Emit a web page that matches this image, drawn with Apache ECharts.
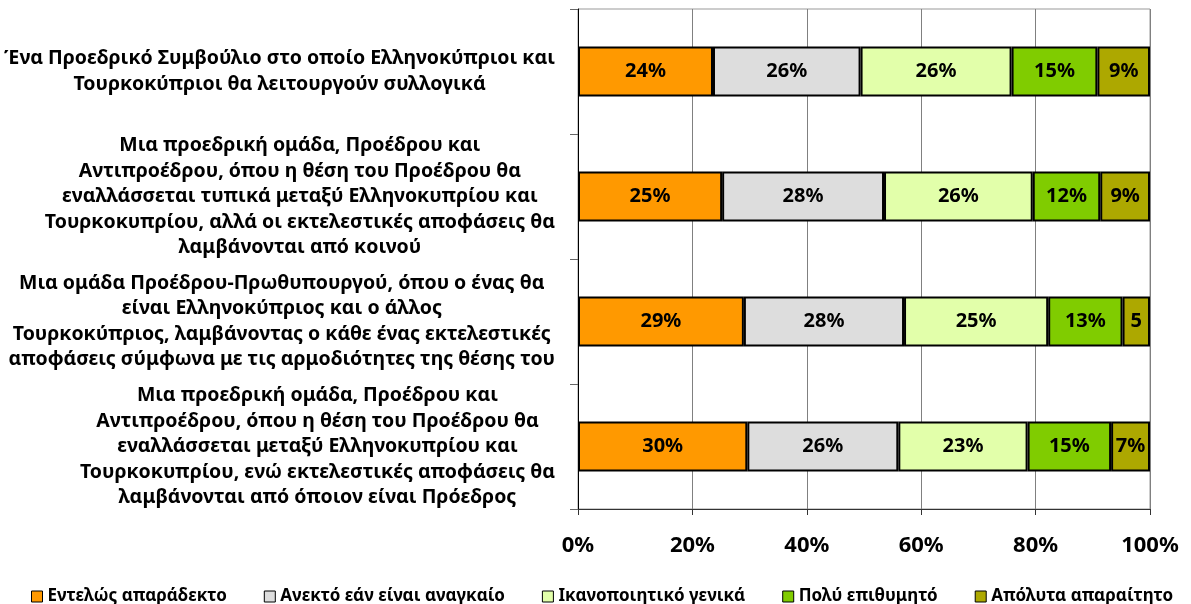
<!DOCTYPE html>
<html>
<head>
<meta charset="utf-8" />
<title>Προεδρία - στάση</title>
<script src="https://cdn.jsdelivr.net/npm/echarts@6/dist/echarts.min.js"></script>
<style>
    html, body { margin: 0; padding: 0; background: #fff; }
    #main { width: 1191px; height: 604px; }
</style>
</head>
<body>
<div id="main"></div>
<script type="text/javascript">
    // κατηγορίες (πάνω προς κάτω)
    var categories = [
        'Ένα Προεδρικό Συμβούλιο στο οποίο Ελληνοκύπριοι και\nΤουρκοκύπριοι θα λειτουργούν συλλογικά',
        'Μια προεδρική ομάδα, Προέδρου και\nΑντιπροέδρου, όπου η θέση του Προέδρου θα\nεναλλάσσεται τυπικά μεταξύ Ελληνοκυπρίου και\nΤουρκοκυπρίου, αλλά οι εκτελεστικές αποφάσεις θα\nλαμβάνονται από κοινού',
        'Μια ομάδα Προέδρου-Πρωθυπουργού, όπου ο ένας θα\nείναι Ελληνοκύπριος και ο άλλος\nΤουρκοκύπριος, λαμβάνοντας ο κάθε ένας εκτελεστικές\nαποφάσεις σύμφωνα με τις αρμοδιότητες της θέσης του',
        'Μια προεδρική ομάδα, Προέδρου και\nΑντιπροέδρου, όπου η θέση του Προέδρου θα\nεναλλάσσεται μεταξύ Ελληνοκυπρίου και\nΤουρκοκυπρίου, ενώ εκτελεστικές αποφάσεις θα\nλαμβάνονται από όποιον είναι Πρόεδρος'
    ];
    var seriesNames = ['Εντελώς απαράδεκτο', 'Ανεκτό εάν είναι αναγκαίο', 'Ικανοποιητικό γενικά', 'Πολύ επιθυμητό', 'Απόλυτα απαραίτητο'];
    var colors = ['#FF9900', '#DDDDDD', '#E2FFAA', '#80CC00', '#ADA800'];

    // ποσοστά ανά απάντηση
    var unacceptable = [23.6, 25.2, 29.0, 29.6];
    var tolerable    = [25.8, 28.3, 28.0, 26.4];
    var satisfactory = [26.4, 26.0, 25.2, 22.6];
    var desirable    = [15.0, 11.8, 13.0, 14.6];
    var essential    = [9.2, 8.7, 4.8, 6.8];
    var values = [unacceptable, tolerable, satisfactory, desirable, essential];

    var xTicks = [0, 20, 40, 60, 80, 100];

    var font = '"Noto Sans", "Open Sans", sans-serif';

    var series = [];
    for (var i = 0; i < seriesNames.length; i++) {
        series.push({
            name: seriesNames[i],
            type: 'bar',
            stack: 'all',
            barCategoryGap: '60%',
            data: values[i],
            itemStyle: { color: colors[i], borderColor: '#000', borderWidth: 2 },
            label: {
                show: true,
                position: 'inside',
                color: '#000',
                fontFamily: font,
                fontWeight: 'bold',
                fontSize: 20,
                formatter: function (p) {
                    var r = Math.round(p.value);
                    // στο πολύ στενό κομμάτι χωράει μόνο ο αριθμός
                    return p.value < 6 ? '' + r : r + '%';
                }
            }
        });
    }

    var myChart = echarts.init(document.getElementById('main'));
    var option = {
        animation: false,
        backgroundColor: '#fff',
        grid: {
            left: 578, right: 41, top: 9, bottom: 95,
            show: true, borderColor: '#999', borderWidth: 1
        },
        legend: {
            data: seriesNames,
            left: 26, top: 583,
            icon: 'rect',
            itemWidth: 11, itemHeight: 11, itemGap: 37,
            itemStyle: { borderWidth: 1, borderColor: '#000' },
            textStyle: { fontFamily: font, fontWeight: 'bold', fontSize: 17, color: '#000' }
        },
        xAxis: {
            type: 'value',
            min: xTicks[0], max: xTicks[xTicks.length - 1], interval: 20,
            axisLine: { show: true, lineStyle: { color: '#333', width: 1 } },
            axisTick: { show: true, length: 6, lineStyle: { color: '#333' } },
            splitLine: { show: true, lineStyle: { color: '#808080', width: 1 } },
            axisLabel: {
                margin: 26,
                fontFamily: font, fontWeight: 'bold', fontSize: 22, color: '#000',
                formatter: '{value}%'
            }
        },
        yAxis: {
            type: 'category',
            inverse: true,
            data: categories,
            axisLine: { show: true, lineStyle: { color: '#000', width: 1 } },
            axisTick: { show: true, length: 8, lineStyle: { color: '#666' } },
            axisLabel: {
                margin: 23,
                align: 'right',
                formatter: function (v) {
                    return v.split('\n').map(function (l) { return '{c|' + l + '}'; }).join('\n');
                },
                rich: {
                    c: { align: 'center', fontFamily: font, fontWeight: 'bold', fontSize: 19.5, lineHeight: 25.5, color: '#000' }
                }
            }
        },
        series: series
    };
    myChart.setOption(option);
</script>
</body>
</html>
